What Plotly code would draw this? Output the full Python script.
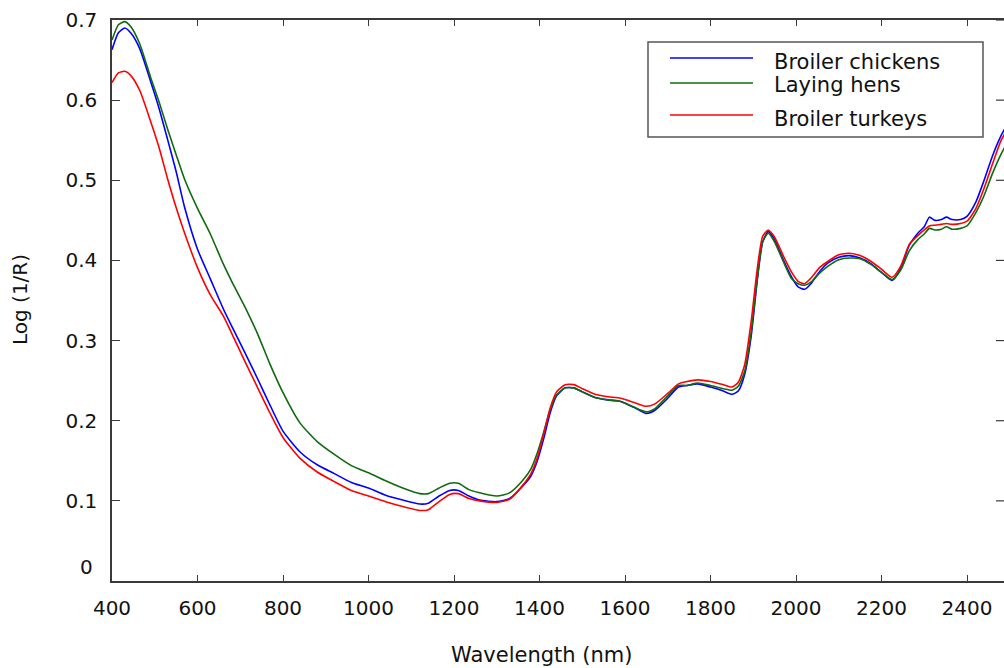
import plotly.graph_objects as go

# NIR spectra: mean log(1/R) by wavelength for three poultry groups
wavelength = [400, 415, 430, 445, 465, 490, 510, 530, 550, 570, 600, 630, 660, 680, 710, 740, 770,
              800, 840, 880, 920, 960, 1000, 1040, 1080, 1120, 1140, 1165, 1190, 1210, 1235, 1260,
              1300, 1330, 1360, 1380, 1395, 1410, 1425, 1440, 1460, 1480, 1500, 1530, 1560, 1590,
              1620, 1650, 1670, 1700, 1725, 1745, 1770, 1800, 1830, 1850, 1865, 1880, 1895, 1910,
              1922, 1935, 1950, 1970, 1990, 2005, 2020, 2035, 2055, 2075, 2100, 2125, 2150, 2175,
              2200, 2225, 2245, 2265, 2285, 2300, 2312, 2325, 2340, 2352, 2365, 2385, 2400, 2420,
              2440, 2460, 2480, 2500]

broiler_chickens = [0.663, 0.684, 0.690, 0.683, 0.664, 0.624, 0.590, 0.551, 0.511, 0.466, 0.414, 0.377,
                    0.340, 0.318, 0.286, 0.253, 0.219, 0.187, 0.161, 0.145, 0.134, 0.123, 0.116, 0.107,
                    0.101, 0.096, 0.097, 0.106, 0.113, 0.113, 0.106, 0.101, 0.099, 0.103, 0.118, 0.131,
                    0.150, 0.178, 0.210, 0.231, 0.241, 0.241, 0.236, 0.229, 0.226, 0.224, 0.217, 0.209,
                    0.213, 0.228, 0.242, 0.244, 0.246, 0.242, 0.237, 0.233, 0.237, 0.258, 0.305, 0.378,
                    0.423, 0.436, 0.426, 0.401, 0.379, 0.367, 0.364, 0.371, 0.386, 0.397, 0.404, 0.406,
                    0.403, 0.396, 0.385, 0.375, 0.390, 0.419, 0.434, 0.442, 0.454, 0.450, 0.451, 0.454,
                    0.451, 0.451, 0.455, 0.472, 0.500, 0.531, 0.556, 0.575]

laying_hens = [0.675, 0.694, 0.698, 0.691, 0.670, 0.629, 0.598, 0.564, 0.532, 0.501, 0.465, 0.433,
               0.396, 0.374, 0.343, 0.309, 0.270, 0.235, 0.197, 0.174, 0.158, 0.144, 0.135, 0.125,
               0.116, 0.109, 0.109, 0.116, 0.122, 0.122, 0.114, 0.110, 0.106, 0.110, 0.125, 0.140,
               0.160, 0.186, 0.214, 0.232, 0.241, 0.241, 0.236, 0.229, 0.226, 0.224, 0.217, 0.211,
               0.215, 0.231, 0.244, 0.244, 0.247, 0.244, 0.240, 0.238, 0.243, 0.262, 0.310, 0.380,
               0.423, 0.434, 0.423, 0.399, 0.377, 0.371, 0.369, 0.373, 0.384, 0.393, 0.401, 0.403,
               0.402, 0.395, 0.385, 0.376, 0.388, 0.412, 0.426, 0.433, 0.440, 0.438, 0.439, 0.442,
               0.439, 0.440, 0.443, 0.459, 0.481, 0.509, 0.533, 0.552]

broiler_turkeys = [0.622, 0.634, 0.636, 0.630, 0.612, 0.574, 0.541, 0.502, 0.466, 0.434, 0.391, 0.357,
                   0.331, 0.309, 0.275, 0.242, 0.209, 0.179, 0.153, 0.136, 0.124, 0.113, 0.106, 0.099,
                   0.093, 0.088, 0.089, 0.099, 0.108, 0.109, 0.103, 0.100, 0.098, 0.102, 0.119, 0.134,
                   0.154, 0.184, 0.216, 0.236, 0.245, 0.245, 0.240, 0.233, 0.230, 0.228, 0.223, 0.218,
                   0.221, 0.234, 0.246, 0.249, 0.251, 0.249, 0.245, 0.242, 0.248, 0.270, 0.323, 0.392,
                   0.430, 0.438, 0.429, 0.406, 0.385, 0.374, 0.371, 0.378, 0.391, 0.399, 0.407, 0.409,
                   0.406, 0.399, 0.389, 0.379, 0.393, 0.420, 0.431, 0.438, 0.443, 0.444, 0.445, 0.446,
                   0.445, 0.446, 0.449, 0.464, 0.490, 0.521, 0.550, 0.568]

series = [
    ("Broiler chickens", broiler_chickens, "#0000ff"),
    ("Laying hens", laying_hens, "#0f6b0f"),
    ("Broiler turkeys", broiler_turkeys, "#ff0000"),
]

x_ticks = [400, 600, 800, 1000, 1200, 1400, 1600, 1800, 2000, 2200, 2400]
y_ticks = [0, 0.1, 0.2, 0.3, 0.4, 0.5, 0.6, 0.7]
y_tick_text = ["", "0.1", "0.2", "0.3", "0.4", "0.5", "0.6", "0.7"]

W, H = 1004, 668
L, R, T, B = 112, 0, 20, 87
FONT = "DejaVu Sans"
AXIS = "#3a3a3a"
TEXT = "#111111"

fig = go.Figure()
for name, vals, color in series:
    fig.add_trace(go.Scatter(x=wavelength, y=vals, mode="lines", name=name,
                             line=dict(color=color, width=1.6, shape="spline", smoothing=0.6),
                             showlegend=False))


def px_to_paper(px, py):
    pw, ph = W - L - R, H - T - B
    return (px - L) / pw, (H - B - py) / ph


shapes = []
annotations = []

# inward ticks along the right-hand edge (no line there)
tick_x0, _ = px_to_paper(W - 8, 0)
for v in y_ticks[1:]:
    shapes.append(dict(type="line", xref="paper", yref="y", x0=tick_x0, x1=1, y0=v, y1=v,
                       line=dict(color=AXIS, width=1.2)))

# boxed key, top right of the plotting area
x0, y0 = px_to_paper(648, 137)
x1, y1 = px_to_paper(983, 42)
shapes.append(dict(type="rect", xref="paper", yref="paper", x0=x0, y0=y0, x1=x1, y1=y1,
                   line=dict(color="#555555", width=1.5), fillcolor="white", layer="above"))
key_rows = [(58, 62), (83, 85), (115, 119)]
for (name, _, color), (ly, ty) in zip(series, key_rows):
    a, b = px_to_paper(670, ly)
    c, _ = px_to_paper(753, ly)
    shapes.append(dict(type="line", xref="paper", yref="paper", x0=a, y0=b, x1=c, y1=b,
                       line=dict(color=color, width=1.6), layer="above"))
    tx, tyy = px_to_paper(772, ty)
    annotations.append(dict(text=name, xref="paper", yref="paper", x=tx, y=tyy,
                            xanchor="left", yanchor="middle", showarrow=False,
                            font=dict(family=FONT, size=21, color=TEXT)))

# the zero label sits a little above its tick
zx, zy = px_to_paper(95, 567)
annotations.append(dict(text="0", xref="paper", yref="paper", x=zx, y=zy, xanchor="right",
                        yanchor="middle", showarrow=False,
                        font=dict(family=FONT, size=20, color=TEXT)))

# axis titles
ax, ay = px_to_paper(541, 655)
annotations.append(dict(text="Wavelength (nm)", xref="paper", yref="paper", x=ax, y=ay,
                        xanchor="center", yanchor="middle", showarrow=False,
                        font=dict(family=FONT, size=21, color=TEXT)))
bx, by = px_to_paper(20, 300)
annotations.append(dict(text="Log (1/R)", xref="paper", yref="paper", x=bx, y=by,
                        xanchor="center", yanchor="middle", textangle=-90, showarrow=False,
                        font=dict(family=FONT, size=20, color=TEXT)))

x_span = (W - L - R) / ((967 - 112) / 2000)

fig.update_layout(
    width=W, height=H,
    margin=dict(l=L, r=R, t=T, b=B, pad=0),
    paper_bgcolor="white", plot_bgcolor="white",
    font=dict(family=FONT, size=20, color=TEXT),
    shapes=shapes, annotations=annotations,
    xaxis=dict(range=[400, 400 + x_span], tickvals=x_ticks, showgrid=False, zeroline=False,
               showline=True, linecolor=AXIS, linewidth=1.5, mirror="ticks",
               ticks="inside", ticklen=6, tickwidth=1.2, tickcolor=AXIS,
               ticklabelstandoff=8,
               tickfont=dict(family=FONT, size=20, color=TEXT)),
    yaxis=dict(range=[0, 0.7], tickvals=y_ticks, ticktext=y_tick_text, showgrid=False,
               zeroline=False, showline=True, linecolor=AXIS, linewidth=1.5, mirror=False,
               ticks="inside", ticklen=8, tickwidth=1.2, tickcolor=AXIS,
               ticklabelstandoff=9,
               tickfont=dict(family=FONT, size=20, color=TEXT)),
)

fig.write_html("out.html")
